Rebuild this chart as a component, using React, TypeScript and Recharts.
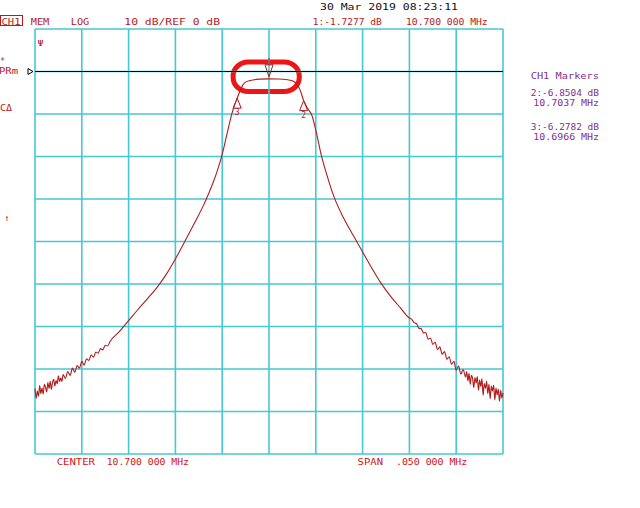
import React from 'react';
import { LineChart, Line, XAxis, YAxis, ReferenceLine, ReferenceDot, ReferenceArea } from 'recharts';

// frequency offset from 10.700 000 MHz centre, in kHz (span 50 kHz, 5 kHz/div)
const offsetKHz = [
  -25, -24.875, -24.75, -24.625, -24.5, -24.375, -24.25, -24.125, -24, -23.875, -23.75, -23.625,
  -23.5, -23.375, -23.25, -23.125, -23, -22.875, -22.75, -22.625, -22.5, -22.375, -22.25, -22.125,
  -22, -21.75, -21.5, -21.25, -21, -20.75, -20.5, -20.25, -20, -19.75, -19.5, -19.25,
  -19, -18.75, -18.5, -18.25, -18, -17.75, -17.5, -17.25, -17,
  -16, -15, -14, -13, -12, -11, -10, -9, -8, -7, -6.5, -6, -5.5, -5, -4.5, -4, -3.7,
  -3.4, -3.1, -2.8, -2.5, -2, -1, 0, 1, 2, 2.5, 2.9, 3.3, 3.7, 4.1, 4.6, 5, 5.6, 6.3,
  7, 8, 9.4, 10.5, 12, 13, 14, 15,
  15.25, 15.5, 15.75, 16, 16.25, 16.5, 16.75, 17, 17.25, 17.5, 17.75, 18, 18.25, 18.5,
  18.75, 19, 19.25, 19.5, 19.75, 20, 20.25, 20.5, 20.75,
  21, 21.125, 21.25, 21.375, 21.5, 21.625, 21.75, 21.875, 22, 22.125, 22.25, 22.375,
  22.5, 22.625, 22.75, 22.875, 23, 23.125, 23.25, 23.375, 23.5, 23.625, 23.75, 23.875,
  24, 24.125, 24.25, 24.375, 24.5, 24.625, 24.75, 24.875, 25,
];

// S21 magnitude, dB (10 dB/div, ref 0 dB)
const traceDb = [
  -74.6, -76.9, -75.2, -76.4, -73.9, -75.8, -74.5, -75.9, -73.6, -74.3, -75.4, -73.2,
  -74.6, -72.9, -74.8, -73.1, -72.4, -74.0, -72.7, -73.5, -71.6, -73.0, -72.1, -72.9,
  -71.3, -72.2, -70.6, -71.5, -69.8, -70.8, -69.2, -69.8, -68.2, -69.1, -67.6, -68.0,
  -66.7, -67.2, -66.0, -66.3, -65.2, -65.5, -64.4, -64.6, -63.6,
  -61.2, -58.6, -56.0, -53.5, -50.9, -47.8, -44.1, -40.0, -35.8, -31.5, -29.0, -26.3, -23.2, -19.5, -14.8, -10.2, -8.0,
  -6.3, -4.6, -3.2, -2.5, -2.1, -1.8, -1.73, -1.75, -1.95, -2.2, -2.8, -4.2, -6.85, -8.6, -10.4, -13.8, -19.8, -25.2,
  -29.8, -34.6, -40.1, -44.4, -49.9, -52.9, -55.5, -58.0,
  -58.3, -59.1, -59.3, -60.4, -60.5, -61.5, -61.4, -63.0, -62.7, -64.2, -63.7, -65.4, -64.8, -66.5,
  -65.9, -67.7, -67.1, -68.9, -68.2, -70.3, -69.3, -71.2, -70.1,
  -71.9, -70.6, -72.8, -71.0, -73.6, -71.5, -72.2, -74.4, -72.0, -73.3, -71.8, -75.0,
  -72.6, -74.1, -72.3, -76.2, -73.4, -74.6, -72.9, -75.8, -73.6, -77.0, -74.0, -75.2,
  -73.8, -77.3, -74.5, -76.1, -74.7, -77.6, -75.0, -76.8, -75.6,
];

const xTicks = [-25, -20, -15, -10, -5, 0, 5, 10, 15, 20, 25];
const yTicks = [10, 0, -10, -20, -30, -40, -50, -60, -70, -80, -90];

// markers: number, offset kHz, dB
const markerIds = [1, 2, 3];
const markerKHz = [0, 3.7, -3.4];
const markerDb = [-1.7277, -6.8504, -6.2782];

const data = offsetKHz.map((k, i) => ({ k, db: traceDb[i] }));

const GRID = '#46c9d2';
const TRACE = '#b01c1c';
const RED = '#b8181c';
const BRIGHT = '#d41414';
const PURPLE = '#80308e';
const FONT = '"DejaVu Sans Mono", monospace';

const T = ({ x, y, w, c, s = 9.5, children }: any) => (
  <text x={x} y={y} textLength={w} lengthAdjust="spacingAndGlyphs" fill={c} fontSize={s} fontFamily={FONT}>
    {children}
  </text>
);

const ActiveMarker = ({ cx, cy }: any) => (
  <g stroke={TRACE} strokeWidth={1} fill="none">
    <line x1={cx} y1={cy - 21} x2={cx} y2={cy - 14} />
    <path d={`M${cx - 4},${cy - 14} L${cx + 4},${cy - 14} L${cx},${cy - 2} Z`} />
  </g>
);

const NumMarker = (id: number) => ({ cx, cy }: any) => (
  <g>
    <path d={`M${cx},${cy} L${cx + 4},${cy + 10} L${cx - 4},${cy + 10} Z`} stroke={TRACE} strokeWidth={1} fill="none" />
    <text x={cx} y={cy + 17} textAnchor="middle" fontSize={8} fill={TRACE} fontFamily={FONT}>{id}</text>
  </g>
);

const RefArrow = ({ cx, cy }: any) => (
  <path d={`M${cx - 7},${cy - 3} L${cx - 2},${cy} L${cx - 7},${cy + 3} Z`} stroke="#000" strokeWidth={1} fill="none" />
);

const Scribble = ({ x, y, width, height }: any) => (
  <rect x={x + 2.5} y={y + 2.5} width={width - 5} height={height - 5} rx={15} ry={14}
    fill="none" stroke="#ec1616" strokeWidth={5} />
);

export default function App() {
  return (
    <div style={{ position: 'absolute', left: 0, top: 0, width: 640, height: 508, background: '#fff' }}>
      <LineChart width={640} height={508} data={data} margin={{ top: 29, right: 137, bottom: 54, left: 35 }}>
        <XAxis type="number" dataKey="k" domain={[-25, 25]} ticks={xTicks} hide />
        <YAxis type="number" domain={[-90, 10]} ticks={yTicks} hide />
        {xTicks.map((t) => (
          <ReferenceLine key={`x${t}`} x={t} stroke={GRID} strokeWidth={1.6} />
        ))}
        {yTicks.map((t) => (
          <ReferenceLine key={`y${t}`} y={t} stroke={GRID} strokeWidth={1.6} />
        ))}
        <ReferenceLine y={0} stroke="#000" strokeWidth={1} />
        <ReferenceDot x={-25} y={0} r={0} shape={RefArrow} ifOverflow="visible" />
        <Line type="monotone" dataKey="db" stroke={TRACE} strokeWidth={1.1} dot={false} isAnimationActive={false} />
        {markerIds.map((id, i) => (
          <ReferenceDot key={id} x={markerKHz[i]} y={markerDb[i]} r={0}
            shape={id === 1 ? ActiveMarker : NumMarker(id)} ifOverflow="visible" />
        ))}
        <ReferenceArea x1={-4.1} x2={3.5} y1={-5.3} y2={2.8} shape={Scribble} ifOverflow="visible" />
      </LineChart>
      <svg width={640} height={508} style={{ position: 'absolute', left: 0, top: 0, pointerEvents: 'none' }}>
        <rect x={0.5} y={15.5} width={22} height={10} fill="none" stroke={RED} strokeWidth={1} />
        <T x={1.5} y={24.5} w={19} c={RED}>CH1</T>
        <T x={30.7} y={25} w={18.6} c={RED}>MEM</T>
        <T x={70.7} y={25} w={18.6} c={RED}>LOG</T>
        <T x={124.3} y={25} w={95.7} c={RED}>10 dB/REF 0 dB</T>
        <T x={320} y={10} w={138} c="#111">30 Mar 2019  08:23:11</T>
        <T x={312.7} y={25} w={69} c={RED}>1:-1.7277 dB</T>
        <T x={406} y={25} w={81.7} c={RED}>10.700 000 MHz</T>

        <T x={530.7} y={79.3} w={68.3} c={PURPLE}>CH1 Markers</T>
        <T x={530.7} y={95.5} w={68.3} c={PURPLE} s={8.5}>2:-6.8504 dB</T>
        <T x={533.3} y={105.7} w={65.7} c={PURPLE} s={8.5}>10.7037 MHz</T>
        <T x={530.7} y={129.8} w={68.3} c={PURPLE} s={8.5}>3:-6.2782 dB</T>
        <T x={533.3} y={139.5} w={65.7} c={PURPLE} s={8.5}>10.6966 MHz</T>

        <T x={0} y={64} w={5} c={PURPLE}>*</T>
        <T x={-1} y={73.5} w={19} c={RED}>PRm</T>
        <T x={0} y={110.7} w={12} c={RED}>CΔ</T>
        <T x={4.5} y={221} w={5} c={RED} s={9}>↑</T>
        <T x={37.5} y={46} w={6} c={RED} s={8}>Ψ</T>

        <T x={56.7} y={465} w={38.3} c={BRIGHT}>CENTER</T>
        <T x={106.7} y={465} w={82.3} c={BRIGHT}>10.700 000 MHz</T>
        <T x={357.6} y={465} w={25.4} c={BRIGHT}>SPAN</T>
        <T x={396} y={465} w={71.2} c={BRIGHT}>.050 000 MHz</T>
      </svg>
    </div>
  );
}
